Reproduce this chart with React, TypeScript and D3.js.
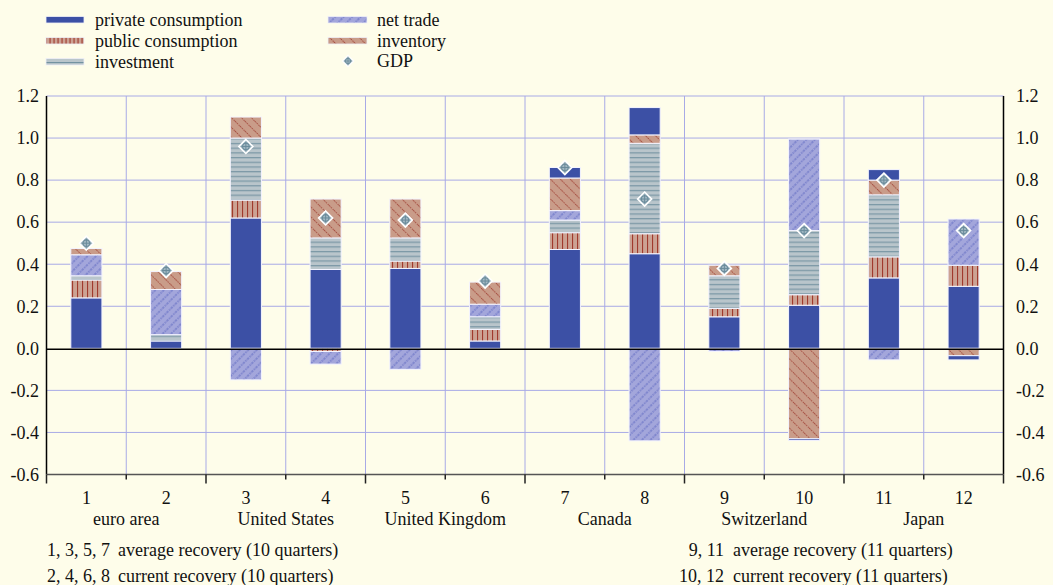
import React from "react";
import * as d3 from "d3";

const categories = ["1", "2", "3", "4", "5", "6", "7", "8", "9", "10", "11", "12"];
const countries = ["euro area", "United States", "United Kingdom", "Canada", "Switzerland", "Japan"];
const privateConsumption = [0.24, 0.035, 0.62, 0.375, 0.38, 0.035, 0.47, 0.45, 0.15, 0.205, 0.335, 0.295];
const publicConsumption = [0.085, 0, 0.085, -0.015, 0.035, 0.055, 0.08, 0.095, 0.04, 0.05, 0.1, 0.1];
const investment = [0.02, 0.03, 0.295, 0.15, 0.11, 0.06, 0.06, 0.43, 0.155, 0.305, 0.295, 0];
const netTrade = [0.1, 0.215, -0.15, -0.06, -0.1, 0.06, 0.045, -0.44, -0.015, 0.435, -0.055, 0.22];
const inventory = [0.03, 0.085, 0.1, 0.185, 0.185, 0.105, 0.155, 0.04, 0.05, -0.43, 0.07, -0.035];
const residual = [0, 0, 0, 0, 0, 0, 0.05, 0.13, 0, -0.008, 0.05, -0.02];
const gdp = [0.5, 0.37, 0.96, 0.62, 0.61, 0.32, 0.86, 0.71, 0.38, 0.56, 0.8, 0.56];
const yTicks = [-0.6, -0.4, -0.2, 0, 0.2, 0.4, 0.6, 0.8, 1.0, 1.2];
const footLeft = [
  ["1, 3, 5, 7", "average recovery (10 quarters)"],
  ["2, 4, 6, 8", "current recovery (10 quarters)"],
];
const footRight = [
  ["9, 11", "average recovery (11 quarters)"],
  ["10, 12", "current recovery (11 quarters)"],
];

const W = 1053;
const H = 585;
const L = 46.5;
const R = 1003.5;
const TOP = 96;
const BOT = 474.5;
const FONT = "'Liberation Serif', 'Times New Roman', serif";
const FS = 18;
const BG = "#FEFDEA";
const GRID = "#A8AAE6";

const keys = ["private", "public", "investment", "netTrade", "inventory", "residual"];
const fills: Record<string, string> = {
  private: "#3C50A5",
  public: "url(#patPublic)",
  investment: "url(#patInvest)",
  netTrade: "url(#patTrade)",
  inventory: "url(#patInv)",
  residual: "#3C50A5",
};

function GdpMarker({ x, y, s = 1 }: { x: number; y: number; s?: number }) {
  return (
    <g transform={`translate(${x},${y}) scale(${s})`}>
      <path d="M0,-7 L7,0 L0,7 L-7,0 Z" fill="#A3B9C4" stroke="#ffffff" strokeWidth={1.6} />
      <circle r={3.3} fill="none" stroke="#6A8B9B" strokeWidth={1.1} />
      <line x1={-4.5} x2={4.5} y1={0} y2={0} stroke="#6A8B9B" strokeWidth={1} />
      <line x1={0} x2={0} y1={-4.5} y2={4.5} stroke="#6A8B9B" strokeWidth={1} />
    </g>
  );
}

export default function App() {
  const x = d3
    .scaleBand<string>()
    .domain(categories)
    .range([L, R])
    .paddingInner(0.61)
    .paddingOuter(0.305);
  const step = (R - L) / categories.length;
  const y = d3.scaleLinear().domain([-0.6, 1.2]).range([BOT, TOP]);

  const rows = categories.map((c, i) => ({
    cat: c,
    private: privateConsumption[i],
    public: publicConsumption[i],
    investment: investment[i],
    netTrade: netTrade[i],
    inventory: inventory[i],
    residual: residual[i],
  }));
  const series = d3
    .stack<any>()
    .keys(keys)
    .offset(d3.stackOffsetDiverging)(rows);

  const boundaries = d3.range(categories.length + 1).map((i) => L + i * step);
  const bw = x.bandwidth();

  const legendLeft = [
    { label: "private consumption", fill: "#3C50A5" },
    { label: "public consumption", fill: "url(#patPublicL)" },
    { label: "investment", fill: "url(#patInvestL)" },
  ];
  const legendRight = [
    { label: "net trade", fill: "url(#patTrade)" },
    { label: "inventory", fill: "url(#patInv)" },
  ];

  return (
    <svg
      width={W}
      height={H}
      style={{ position: "absolute", left: 0, top: 0, display: "block" }}
      fontFamily={FONT}
    >
      <defs>
        <pattern id="patPublic" patternUnits="userSpaceOnUse" width={5} height={10}>
          <rect width={5} height={10} fill="#CCA293" />
          <rect x={2} width={1.1} height={10} fill="#A03A2D" />
        </pattern>
        <pattern id="patPublicL" patternUnits="userSpaceOnUse" width={4} height={10}>
          <rect width={4} height={10} fill="#CCA293" />
          <rect x={1.5} width={1.1} height={10} fill="#A03A2D" />
        </pattern>
        <pattern id="patInvest" patternUnits="userSpaceOnUse" width={10} height={4.7}>
          <rect width={10} height={4.7} fill="#B9C5CB" />
          <rect y={2} width={10} height={1.1} fill="#7392A1" />
        </pattern>
        <pattern id="patInvestL" patternUnits="userSpaceOnUse" width={10} height={7} y={59}>
          <rect width={10} height={7} fill="#B9C5CB" />
          <rect y={3} width={10} height={1.1} fill="#7392A1" />
        </pattern>
        <pattern
          id="patTrade"
          patternUnits="userSpaceOnUse"
          width={6}
          height={6}
          patternTransform="rotate(45)"
        >
          <rect width={6} height={6} fill="#A3A6DB" />
          <line x1={3} x2={3} y1={0} y2={6} stroke="#5761BE" strokeWidth={0.9} strokeDasharray="1.5,1" />
        </pattern>
        <pattern
          id="patInv"
          patternUnits="userSpaceOnUse"
          width={7}
          height={7}
          patternTransform="rotate(-45)"
        >
          <rect width={7} height={7} fill="#C99C89" />
          <line x1={3.5} x2={3.5} y1={0} y2={7} stroke="#A3463A" strokeWidth={0.9} strokeDasharray="1.5,1" />
        </pattern>
      </defs>

      <rect x={0} y={0} width={W} height={H} fill={BG} />

      {/* horizontal grid */}
      {yTicks
        .filter((t) => t !== 0 && t !== -0.6)
        .map((t) => (
          <line key={"h" + t} x1={L} x2={R} y1={y(t)} y2={y(t)} stroke={GRID} strokeWidth={1} />
        ))}
      {/* vertical grid */}
      {boundaries.slice(1, -1).map((b, i) => (
        <line key={"v" + i} x1={b} x2={b} y1={TOP} y2={BOT} stroke={GRID} strokeWidth={1} />
      ))}

      {/* bars */}
      {series.map((s) => (
        <g key={s.key}>
          {s.map((d, i) => {
            const y0 = y(Math.max(d[0], d[1]));
            const y1 = y(Math.min(d[0], d[1]));
            if (y1 - y0 < 0.01) return null;
            return (
              <rect
                key={i}
                x={x(categories[i])}
                y={y0}
                width={bw}
                height={y1 - y0}
                fill={fills[s.key as string]}
                stroke="#F4F4FF"
                strokeWidth={1}
              />
            );
          })}
        </g>
      ))}

      {/* zero line */}
      <line x1={L} x2={R} y1={y(0) + 1} y2={y(0) + 1} stroke="#000" strokeWidth={1.5} />

      {/* GDP markers */}
      {gdp.map((g, i) => (
        <GdpMarker key={"g" + i} x={(x(categories[i]) as number) + bw / 2} y={y(g)} />
      ))}

      {/* axes */}
      <line x1={L} x2={L} y1={TOP} y2={BOT} stroke="#000" strokeWidth={1.5} />
      <line x1={R} x2={R} y1={TOP} y2={BOT} stroke="#000" strokeWidth={1.5} />
      <line x1={L} x2={R} y1={BOT} y2={BOT} stroke="#555" strokeWidth={1.5} />
      {boundaries.map((b, i) => (
        <line
          key={"t" + i}
          x1={b}
          x2={b}
          y1={BOT}
          y2={BOT + (i % 2 === 0 ? 9 : 5)}
          stroke="#222"
          strokeWidth={1.5}
        />
      ))}

      {yTicks.map((t) => (
        <g key={"yl" + t} fontSize={FS} fill="#111">
          <text x={39} y={y(t)} dy="0.35em" textAnchor="end">
            {t.toFixed(1)}
          </text>
          <text x={1016} y={y(t)} dy="0.35em" textAnchor="start">
            {t.toFixed(1)}
          </text>
        </g>
      ))}

      {categories.map((c) => (
        <text
          key={"c" + c}
          x={(x(c) as number) + bw / 2}
          y={498}
          dy="0.35em"
          textAnchor="middle"
          fontSize={FS}
          fill="#111"
        >
          {c}
        </text>
      ))}
      {countries.map((c, i) => (
        <text
          key={"n" + c}
          x={L + (2 * i + 1) * step}
          y={519}
          dy="0.35em"
          textAnchor="middle"
          fontSize={FS}
          fill="#111"
        >
          {c}
        </text>
      ))}

      {footLeft.map((f, i) => (
        <g key={"fl" + i} fontSize={FS} fill="#111">
          <text x={110} y={550 + i * 26} dy="0.35em" textAnchor="end">
            {f[0]}
          </text>
          <text x={118} y={550 + i * 26} dy="0.35em">
            {f[1]}
          </text>
        </g>
      ))}
      {footRight.map((f, i) => (
        <g key={"fr" + i} fontSize={FS} fill="#111">
          <text x={724} y={550 + i * 26} dy="0.35em" textAnchor="end">
            {f[0]}
          </text>
          <text x={733} y={550 + i * 26} dy="0.35em">
            {f[1]}
          </text>
        </g>
      ))}

      {/* legend */}
      {legendLeft.map((l, i) => (
        <g key={"ll" + i}>
          <rect x={46} y={16.5 + i * 21} width={38} height={6.5} fill={l.fill} stroke="#F0F0F8" strokeWidth={0.8} />
          <text x={95} y={20 + i * 21} dy="0.35em" fontSize={FS} fill="#111">
            {l.label}
          </text>
        </g>
      ))}
      {legendRight.map((l, i) => (
        <g key={"lr" + i}>
          <rect x={328} y={16.5 + i * 21} width={39} height={6.5} fill={l.fill} stroke="#F0F0F8" strokeWidth={0.8} />
          <text x={377} y={20 + i * 21} dy="0.35em" fontSize={FS} fill="#111">
            {l.label}
          </text>
        </g>
      ))}
      <GdpMarker x={348} y={61} s={0.8} />
      <text x={377} y={61} dy="0.35em" fontSize={FS} fill="#111">
        GDP
      </text>
    </svg>
  );
}
